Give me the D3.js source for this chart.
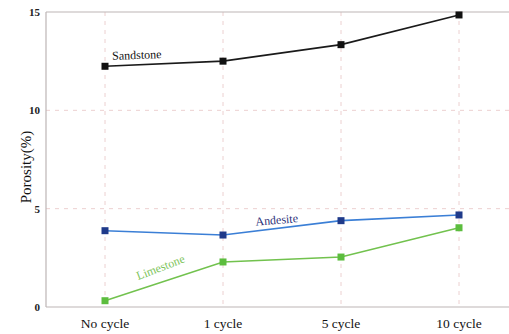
<!DOCTYPE html>
<html lang="en">
<head>
    <meta charset="UTF-8">
    <title>Porosity</title>
    <script src="https://cdn.jsdelivr.net/npm/d3@7"></script>
    <style>
        body { margin: 0; background: #fff; }
        .grid line { stroke: #ecd0d0; stroke-dasharray: 4,5; stroke-width: 1; }
        .tick-y { font-size: 11px; font-weight: bold; fill: #222; }
        .tick-x { font-size: 13.5px; fill: #111; }
    </style>
</head>
<body>
<div id="chartArea"></div>
<script>
    const categories = ['No cycle', '1 cycle', '5 cycle', '10 cycle'];
    const sandstone = [12.24, 12.5, 13.34, 14.85];
    const andesite = [3.88, 3.66, 4.39, 4.68];
    const limestone = [0.32, 2.29, 2.54, 4.03];
    const yTicks = [0, 5, 10, 15];

    const serif = "'Liberation Serif', 'Times New Roman', serif";
    const W = 509, H = 334;
    const margin = { top: 12, right: -9, bottom: 27, left: 46 };

    const svg = d3.select('#chartArea').append('svg')
        .attr('width', W)
        .attr('height', H)
        .style('display', 'block')
        .style('font-family', serif);

    const x = d3.scalePoint()
        .domain(categories)
        .range([margin.left, W - margin.right])
        .padding(0.5);

    const y = d3.scaleLinear()
        .domain([0, 15])
        .range([H - margin.bottom, margin.top]);

    // grid
    const grid = svg.append('g').attr('class', 'grid');
    grid.selectAll('.vg')
        .data(categories)
        .enter().append('line')
        .attr('x1', d => x(d)).attr('x2', d => x(d))
        .attr('y1', y(15)).attr('y2', y(0));
    grid.selectAll('.hg')
        .data([5, 10])
        .enter().append('line')
        .attr('x1', margin.left).attr('x2', W)
        .attr('y1', d => y(d)).attr('y2', d => y(d));

    // frame
    [[margin.left, W, y(15), y(15)], [margin.left, W, y(0), y(0)], [margin.left, margin.left, y(15), y(0)]]
        .forEach(l => {
            svg.append('line')
                .attr('x1', l[0]).attr('x2', l[1])
                .attr('y1', l[2]).attr('y2', l[3])
                .attr('stroke', '#bdb5b5').attr('stroke-width', 1.2);
        });

    // tick labels
    svg.selectAll('.tick-y')
        .data(yTicks)
        .enter().append('text')
        .attr('class', 'tick-y')
        .style('font-family', serif)
        .attr('x', 40)
        .attr('y', d => y(d) + 4)
        .attr('text-anchor', 'end')
        .text(d => d);

    svg.selectAll('.tick-x')
        .data(categories)
        .enter().append('text')
        .attr('class', 'tick-x')
        .style('font-family', serif)
        .attr('x', d => x(d))
        .attr('y', 328)
        .attr('text-anchor', 'middle')
        .text(d => d);

    svg.append('text')
        .attr('transform', 'translate(31,167) rotate(-90)')
        .attr('text-anchor', 'middle')
        .style('font-family', serif)
        .attr('font-size', 15)
        .attr('fill', '#111')
        .text('Porosity(%)');

    const series = [
        { name: 'Sandstone', values: sandstone, line: '#1a1a1a', mark: '#111', lx: 137, ly: 59, rot: -2, col: '#111' },
        { name: 'Andesite', values: andesite, line: '#3b7fd6', mark: '#1f3a8a', lx: 277, ly: 224, rot: -5, col: '#2b2f78' },
        { name: 'Limestone', values: limestone, line: '#72c24e', mark: '#5cbd3e', lx: 162, ly: 271, rot: -21, col: '#7cc45a' }
    ];

    const line = d3.line()
        .x((d, i) => x(categories[i]))
        .y(d => y(d));

    series.forEach(s => {
        svg.append('path')
            .attr('d', line(s.values))
            .attr('fill', 'none')
            .attr('stroke', s.line)
            .attr('stroke-width', 1.6);

        svg.selectAll(null)
            .data(s.values)
            .enter().append('rect')
            .attr('x', (d, i) => x(categories[i]) - 3.5)
            .attr('y', d => y(d) - 3.5)
            .attr('width', 7)
            .attr('height', 7)
            .attr('fill', s.mark);

        svg.append('text')
            .attr('transform', `translate(${s.lx},${s.ly}) rotate(${s.rot})`)
            .attr('text-anchor', 'middle')
            .style('font-family', serif)
            .attr('font-size', 12)
            .attr('fill', s.col)
            .text(s.name);
    });
</script>
</body>
</html>
